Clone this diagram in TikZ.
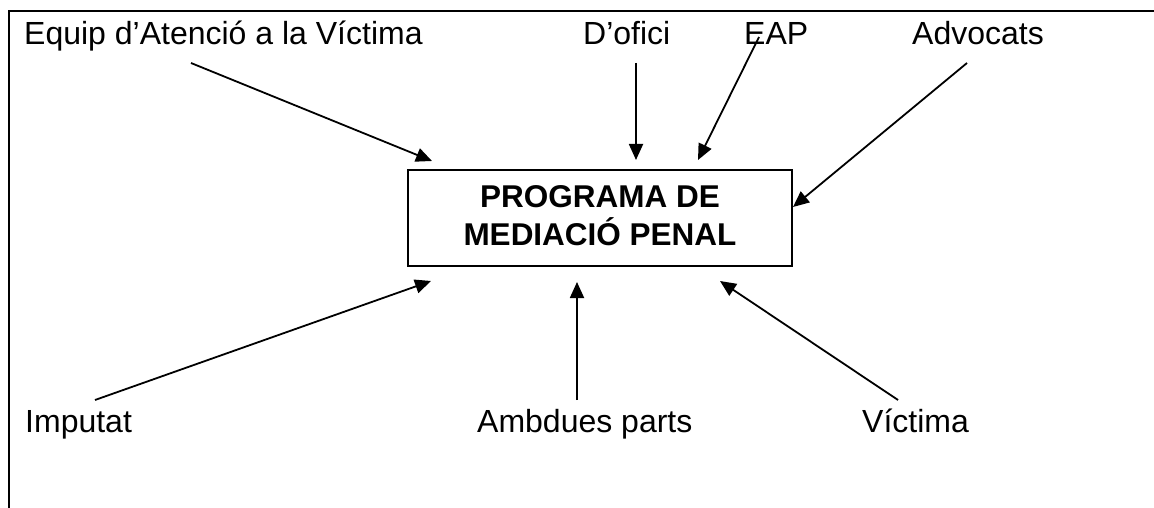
\documentclass[tikz,border=0pt]{standalone}
\usepackage{fontspec}
\setmainfont{Liberation Sans}
\usetikzlibrary{arrows.meta}
\begin{document}
\begin{tikzpicture}[x=1pt,y=-1pt,
  lbl/.style={anchor=base west,inner sep=0pt,font=\fontsize{32}{38}\selectfont},
  mainbox/.style={draw,line width=2pt,minimum width=384pt,minimum height=96pt,align=center,inner sep=0pt,text depth=5pt,font=\fontsize{31.5}{38}\selectfont\bfseries},
  conn/.style={line width=1.8pt,-{Triangle[length=16pt,width=14pt]}},
  frameline/.style={line width=2.2pt}]
\useasboundingbox (0,0) rectangle (1154,508);
\draw[frameline] (9,508) -- (9,11) -- (1154,11);
\node[mainbox] (box) at (600,218) {PROGRAMA DE\\MEDIACIÓ PENAL};
\node[lbl] (equip) at (24,45) {Equip d’Atenció a la Víctima};
\node[lbl] (ofici) at (583,45) {D’ofici};
\node[lbl] (eap) at (744,45) {EAP};
\node[lbl] (advo) at (912,45) {Advocats};
\node[lbl] (imp) at (25,432) {Imputat};
\node[lbl] (amb) at (477,432) {Ambdues parts};
\node[lbl] (vic) at (862,432) {Víctima};
\coordinate (s1) at (191,63);  \coordinate (t1) at (432,161);
\coordinate (s2) at (636,63);  \coordinate (t2) at (636,160);
\coordinate (s3) at (759,37);  \coordinate (t3) at (698,160);
\coordinate (s4) at (967,63);  \coordinate (t4) at (793,207);
\coordinate (s5) at (95,400);  \coordinate (t5) at (431,281);
\coordinate (s6) at (577,400); \coordinate (t6) at (577,282);
\coordinate (s7) at (898,400); \coordinate (t7) at (720,281);
\draw[conn] (s1) -- (t1);
\draw[conn] (s2) -- (t2);
\draw[conn] (s3) -- (t3);
\draw[conn] (s4) -- (t4);
\draw[conn] (s5) -- (t5);
\draw[conn] (s6) -- (t6);
\draw[conn] (s7) -- (t7);
\end{tikzpicture}
\end{document}
